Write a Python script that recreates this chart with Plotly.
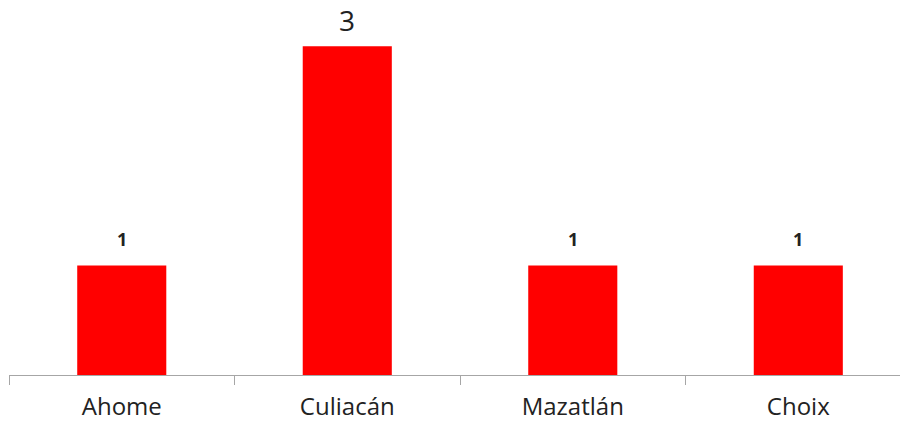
import plotly.graph_objects as go

municipios = ["Ahome", "Culiacán", "Mazatlán", "Choix"]
casos = [1, 3, 1, 1]

# estilo de cada etiqueta de valor (tamaño, negrita, desplazamiento)
estilo_etiqueta = [
    {"size": 18, "bold": True, "shift": 12},
    {"size": 28, "bold": False, "shift": 5},
    {"size": 18, "bold": True, "shift": 12},
    {"size": 18, "bold": True, "shift": 12},
]

fig = go.Figure()
fig.add_bar(
    x=municipios,
    y=casos,
    marker={"color": "#ff0000", "line": {"width": 0}},
    hoverinfo="x+y",
)

for nombre, valor, est in zip(municipios, casos, estilo_etiqueta):
    texto = f"<b>{valor}</b>" if est["bold"] else str(valor)
    fig.add_annotation(
        x=nombre,
        y=valor,
        text=texto,
        showarrow=False,
        yanchor="bottom",
        yshift=est["shift"],
        font={"family": "Open Sans", "size": est["size"], "color": "#222222"},
    )

fig.update_layout(
    width=900,
    height=421,
    margin={"l": 9, "r": 0, "t": 10, "b": 46},
    paper_bgcolor="white",
    plot_bgcolor="white",
    bargap=0.605,
    showlegend=False,
    font={"family": "Open Sans", "color": "#222222"},
    xaxis={
        "type": "category",
        "range": [-0.5, 3.451],
        "showline": True,
        "linecolor": "#a6a6a6",
        "linewidth": 1,
        "ticks": "outside",
        "tickson": "boundaries",
        "ticklen": 9,
        "tickcolor": "#a6a6a6",
        "ticklabelstandoff": 10,
        "showgrid": False,
        "tickfont": {"size": 24, "color": "#222222"},
    },
    yaxis={
        "range": [0, 3.33],
        "visible": False,
        "showgrid": False,
        "zeroline": False,
    },
)

fig.write_html(
    "out.html",
    config={"displayModeBar": False},
    post_script="document.body.style.margin='0';",
)
